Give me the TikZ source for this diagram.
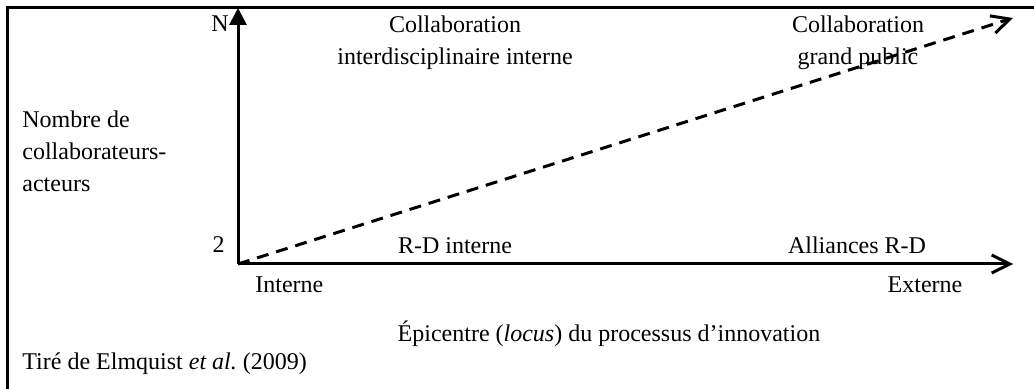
\documentclass[tikz,border=0pt]{standalone}
\usepackage{fontspec}
\setmainfont{Liberation Serif}
\usetikzlibrary{arrows.meta}

\begin{document}
\begin{tikzpicture}[x=0.5pt,y=-0.5pt,>={Straight Barb[length=9pt,width=9pt]},
	txt/.style={font=\fontsize{12}{16}\selectfont,inner sep=0pt},
	axis/.style={line width=1.5pt}]
	%
	\useasboundingbox (0,0) rectangle (1034,389);
	\draw [line width=1.5pt] (7,389) -- (7,8) -- (1034,8);
	%
	\coordinate (O) at (238,264);
	\coordinate (Ytip) at (238,8);
	\coordinate (Xtip) at (1013,264);
	\coordinate (Dtip) at (1013,18);
	%
	\draw [axis,-{Triangle[length=8.5pt,width=8.5pt]}] (O) -- (Ytip);
	\draw [axis,->] (O) -- (Xtip);
	\draw [axis,dash pattern=on 6pt off 4pt,->] (O) -- (Dtip);
	%
	\node[txt,anchor=base east] (N) at (229,32) {N};
	\node[txt,anchor=base east] (deux) at (225,253) {2};
	\node[txt,align=left,anchor=west] (nombre) at (22,151) {Nombre de\\collaborateurs-\\acteurs};
	%
	\node[txt,align=center] (interdisc) at (455,43) {Collaboration\\interdisciplinaire interne};
	\node[txt,align=center] (public) at (858,43) {Collaboration\\grand public};
	\node[txt,anchor=base] (rdint) at (455,254) {R-D interne};
	\node[txt,anchor=base] (alliances) at (857,254) {Alliances R-D};
	%
	\node[txt,anchor=base west] (interne) at (255,293) {Interne};
	\node[txt,anchor=base] (externe) at (925,293) {Externe};
	\node[txt,anchor=base] (epicentre) at (609,342) {Épicentre (\textit{locus}) du processus d’innovation};
	\node[txt,anchor=base west] (source) at (22,370) {Tiré de Elmquist \textit{et al.}\ (2009)};
	%
\end{tikzpicture}
\end{document}
